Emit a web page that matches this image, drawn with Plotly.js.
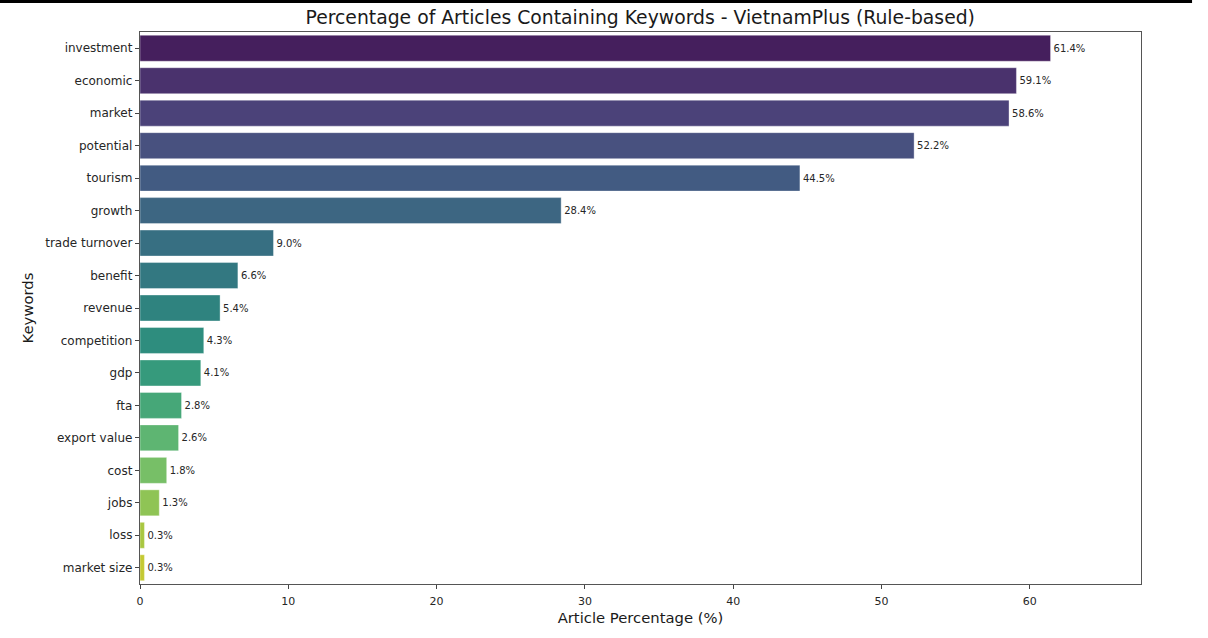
<!DOCTYPE html>
<html>
<head>
<meta charset="utf-8">
<script src="https://cdn.plot.ly/plotly-3.0.1.min.js"></script>
<style>
  html, body { margin: 0; padding: 0; background: #fff; }
  #chart { width: 1208px; height: 638px; }
</style>
</head>
<body>
<div id="chart"></div>
<script>
"use strict";

// keywords, top to bottom as shown
var keywords = ["investment", "economic", "market", "potential", "tourism", "growth",
    "trade turnover", "benefit", "revenue", "competition", "gdp", "fta",
    "export value", "cost", "jobs", "loss", "market size"];
var percentages = [61.4, 59.1, 58.6, 52.2, 44.5, 28.4, 9.0, 6.6, 5.4, 4.3, 4.1, 2.8, 2.6, 1.8, 1.3, 0.3, 0.3];
var xTicks = [0, 10, 20, 30, 40, 50, 60];

// viridis colormap stops (every 0.05)
var viridisStops = ["#440154", "#471365", "#482475", "#463480", "#414487", "#3b528b", "#355f8d",
    "#2f6c8e", "#2a788e", "#25848e", "#21918c", "#1e9c89", "#22a884", "#2fb47c", "#44bf70",
    "#5ec962", "#7ad151", "#9bd93c", "#bddf26", "#dfe318", "#fde725"];

function hexToRgb(h) {
    return [parseInt(h.substr(1, 2), 16), parseInt(h.substr(3, 2), 16), parseInt(h.substr(5, 2), 16)];
}

function viridisAt(t) {
    var pos = t * (viridisStops.length - 1);
    var i = Math.min(Math.floor(pos), viridisStops.length - 2);
    var f = pos - i;
    var a = hexToRgb(viridisStops[i]), b = hexToRgb(viridisStops[i + 1]);
    return [0, 1, 2].map(function (k) { return (a[k] + (b[k] - a[k]) * f) / 255; });
}

// seaborn style desaturation (saturation 0.75) in HLS space
function desaturate(rgb, prop) {
    var r = rgb[0], g = rgb[1], b = rgb[2];
    var max = Math.max(r, g, b), min = Math.min(r, g, b);
    var l = (max + min) / 2, h = 0, s = 0, d = max - min;
    if (d > 0) {
        s = l > 0.5 ? d / (2 - max - min) : d / (max + min);
        if (max === r) h = ((g - b) / d) % 6;
        else if (max === g) h = (b - r) / d + 2;
        else h = (r - g) / d + 4;
        h /= 6;
        if (h < 0) h += 1;
    }
    s *= prop;
    function hue(p, q, t) {
        if (t < 0) t += 1;
        if (t > 1) t -= 1;
        if (t < 1 / 6) return p + (q - p) * 6 * t;
        if (t < 1 / 2) return q;
        if (t < 2 / 3) return p + (q - p) * (2 / 3 - t) * 6;
        return p;
    }
    var q = l < 0.5 ? l * (1 + s) : l + s - l * s;
    var p = 2 * l - q;
    var out = [hue(p, q, h + 1 / 3), hue(p, q, h), hue(p, q, h - 1 / 3)];
    return "rgb(" + out.map(function (v) { return Math.round(v * 255); }).join(",") + ")";
}

var n = keywords.length;
var barColors = keywords.map(function (k, i) {
    return desaturate(viridisAt((i + 1) / (n + 1)), 0.75);
});

var trace = {
    type: "bar",
    orientation: "h",
    y: keywords,
    x: percentages,
    width: 0.8,
    marker: { color: barColors, line: { color: "rgba(255,255,255,0.6)", width: 0.6 } },
    text: percentages.map(function (v) { return v.toFixed(1) + "%"; }),
    textposition: "outside",
    textfont: { family: "DejaVu Sans", size: 10, color: "#262626" },
    cliponaxis: false,
    hoverinfo: "x+y"
};

var layout = {
    width: 1208,
    height: 638,
    margin: { l: 140, r: 67, t: 32, b: 54 },
    paper_bgcolor: "#ffffff",
    plot_bgcolor: "#ffffff",
    font: { family: "DejaVu Sans", color: "#262626" },
    showlegend: false,
    bargap: 0.2,
    title: {
        text: "Percentage of Articles Containing Keywords - VietnamPlus (Rule-based)",
        font: { family: "DejaVu Sans", size: 18.8, color: "#1a1a1a" },
        x: 0.53, xanchor: "center",
        y: 0.972, yanchor: "middle"
    },
    xaxis: {
        range: [0, 67.5],
        tickvals: xTicks,
        ticks: "outside",
        ticklen: 4,
        tickcolor: "#444",
        ticklabelstandoff: 3,
        tickfont: { size: 11, color: "#262626" },
        showgrid: false,
        zeroline: false,
        showline: true,
        linecolor: "#555",
        linewidth: 1.2,
        mirror: true,
        title: { text: "Article Percentage (%)", font: { size: 14.8, color: "#1a1a1a" }, standoff: 5 }
    },
    yaxis: {
        autorange: "reversed",
        type: "category",
        ticks: "outside",
        ticklen: 4,
        tickcolor: "#444",
        tickfont: { size: 12, color: "#262626" },
        showgrid: false,
        zeroline: false,
        showline: true,
        linecolor: "#555",
        linewidth: 1.2,
        mirror: true,
        title: { text: "Keywords", font: { size: 14.8, color: "#1a1a1a" }, standoff: 8 }
    },
    shapes: [{
        type: "rect", xref: "paper", yref: "paper",
        x0: -0.1399, x1: 1.051, y0: 1.0525, y1: 1.06,
        fillcolor: "#000", line: { width: 0 }, layer: "above"
    }]
};

Plotly.newPlot("chart", [trace], layout, { displayModeBar: false, staticPlot: true });
</script>
</body>
</html>
